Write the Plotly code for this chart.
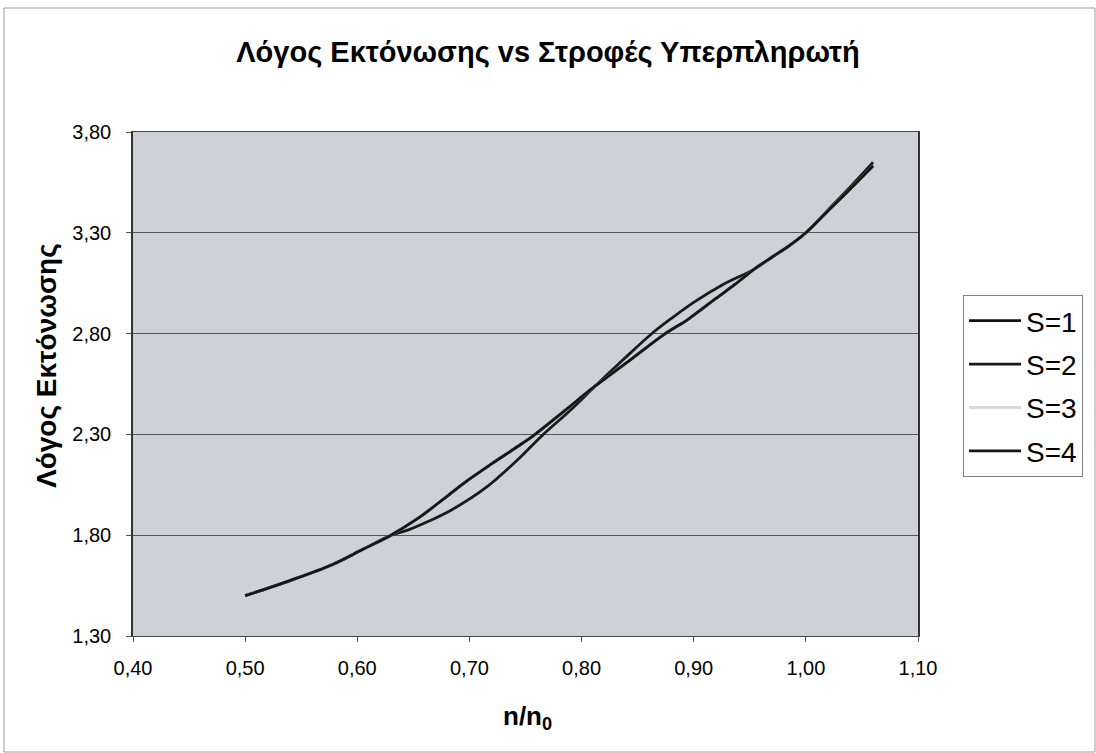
import plotly.graph_objects as go

# Data
x_s1 = [0.500, 0.540, 0.578, 0.605, 0.630, 0.654, 0.680, 0.699, 0.720, 0.743, 0.758, 0.785, 0.812, 0.845, 0.874, 0.895, 0.919, 0.937, 0.954, 0.970, 0.985, 1.000, 1.020, 1.040, 1.060]
y_s1 = [1.500, 1.575, 1.655, 1.730, 1.800, 1.883, 1.993, 2.074, 2.155, 2.240, 2.298, 2.418, 2.539, 2.676, 2.797, 2.871, 2.971, 3.045, 3.120, 3.180, 3.235, 3.300, 3.410, 3.520, 3.632]

x_s2 = [0.500, 0.540, 0.578, 0.605, 0.630, 0.645, 0.664, 0.684, 0.714, 0.743, 0.764, 0.790, 0.812, 0.837, 0.862, 0.880, 0.900, 0.925, 0.954, 0.970, 0.985, 1.000, 1.020, 1.040, 1.060]
y_s2 = [1.500, 1.575, 1.655, 1.730, 1.800, 1.825, 1.870, 1.925, 2.033, 2.174, 2.290, 2.420, 2.539, 2.670, 2.797, 2.875, 2.955, 3.040, 3.120, 3.180, 3.235, 3.300, 3.415, 3.530, 3.650]

x_s3 = [0.500, 0.540, 0.578, 0.605, 0.630, 0.654, 0.680, 0.699, 0.720, 0.743, 0.758, 0.785, 0.812, 0.845, 0.874, 0.895, 0.919, 0.937, 0.954, 0.970, 0.985, 1.000, 1.020, 1.040, 1.060]
y_s3 = [1.500, 1.575, 1.655, 1.730, 1.800, 1.883, 1.993, 2.074, 2.155, 2.240, 2.298, 2.418, 2.539, 2.676, 2.797, 2.871, 2.971, 3.045, 3.120, 3.180, 3.235, 3.300, 3.410, 3.520, 3.632]

x_s4 = [0.500, 0.540, 0.578, 0.605, 0.630, 0.654, 0.680, 0.699, 0.720, 0.743, 0.758, 0.785, 0.812, 0.845, 0.874, 0.895, 0.919, 0.937, 0.954, 0.970, 0.985, 1.000, 1.020, 1.040, 1.060]
y_s4 = [1.500, 1.575, 1.655, 1.730, 1.800, 1.883, 1.993, 2.074, 2.155, 2.240, 2.298, 2.418, 2.539, 2.676, 2.797, 2.871, 2.971, 3.045, 3.120, 3.180, 3.235, 3.300, 3.410, 3.520, 3.632]

series_names = ["S=1", "S=2", "S=3", "S=4"]
series_colors = ["#111111", "#1a1a1a", "#d9d9d9", "#151515"]
xs = [x_s1, x_s2, x_s3, x_s4]
ys = [y_s1, y_s2, y_s3, y_s4]

x_ticks = [0.40, 0.50, 0.60, 0.70, 0.80, 0.90, 1.00, 1.10]
y_ticks = [1.30, 1.80, 2.30, 2.80, 3.30, 3.80]

title_text = "Λόγος Εκτόνωσης vs Στροφές Υπερπληρωτή"
y_title = "Λόγος Εκτόνωσης"
x_title = "n/n<sub>0</sub>"

FONT = "Liberation Sans, Arial, sans-serif"

fig = go.Figure()
for i in range(4):
    fig.add_trace(go.Scatter(
        x=xs[i], y=ys[i], name=series_names[i], mode="lines",
        line=dict(color=series_colors[i], width=2.8, shape="spline", smoothing=1.0),
        legendgroup=f"g{i}",
    ))

# plot area in pixels: left 133, right 918, top 132, bottom 636
L, R, T, B = 133, 918, 132, 636
W, H = 1096, 753

def px(xp):
    return (xp - L) / (R - L)

def py(yp):
    return (B - yp) / (B - T)

fig.update_layout(
    width=W, height=H,
    margin=dict(l=L, r=W - R, t=T, b=H - B),
    paper_bgcolor="white",
    plot_bgcolor="#ced2d8",
    separators=",.",
    font=dict(family=FONT, color="#000000"),
    title=dict(text=title_text, x=0.5, xref="container", xanchor="center",
               y=1 - 52 / H, yref="container", yanchor="middle",
               font=dict(size=29, family=FONT, weight="bold")),
    showlegend=True,
    legend=dict(x=px(963), y=py(295), xanchor="left", yanchor="top",
                bgcolor="white", bordercolor="#808080", borderwidth=1,
                font=dict(size=28, family=FONT), tracegroupgap=4,
                itemwidth=52),
    xaxis=dict(range=[0.40, 1.10], tickvals=x_ticks, tickformat=".2f",
               showgrid=False, zeroline=False, ticks="outside", ticklen=5,
               tickcolor="#555555", showline=True, linecolor="#444444", linewidth=1.2,
               mirror=True, tickfont=dict(size=20, family=FONT),
               ticklabelstandoff=9),
    yaxis=dict(range=[1.30, 3.80], tickvals=y_ticks, tickformat=".2f",
               showgrid=True, gridcolor="#555555", gridwidth=1, zeroline=False,
               ticks="outside", ticklen=5, tickcolor="#555555", showline=True,
               linecolor="#333333", linewidth=1.5, mirror=True,
               tickfont=dict(size=20, family=FONT), ticklabelstandoff=11),
    annotations=[
        dict(text=y_title, xref="paper", yref="paper", x=px(46), y=py(366),
             textangle=-90, showarrow=False, xanchor="center", yanchor="middle",
             font=dict(size=28, family=FONT, weight="bold")),
        dict(text=x_title, xref="paper", yref="paper", x=px(527), y=py(717),
             showarrow=False, xanchor="center", yanchor="middle",
             font=dict(size=26, family=FONT, weight="bold")),
    ],
    shapes=[
        dict(type="rect", xref="paper", yref="paper",
             x0=px(4), x1=px(1095), y0=py(752), y1=py(8),
             line=dict(color="#9a9a9a", width=1), fillcolor="rgba(0,0,0,0)",
             layer="below"),
    ],
)

fig.write_html("out.html")
